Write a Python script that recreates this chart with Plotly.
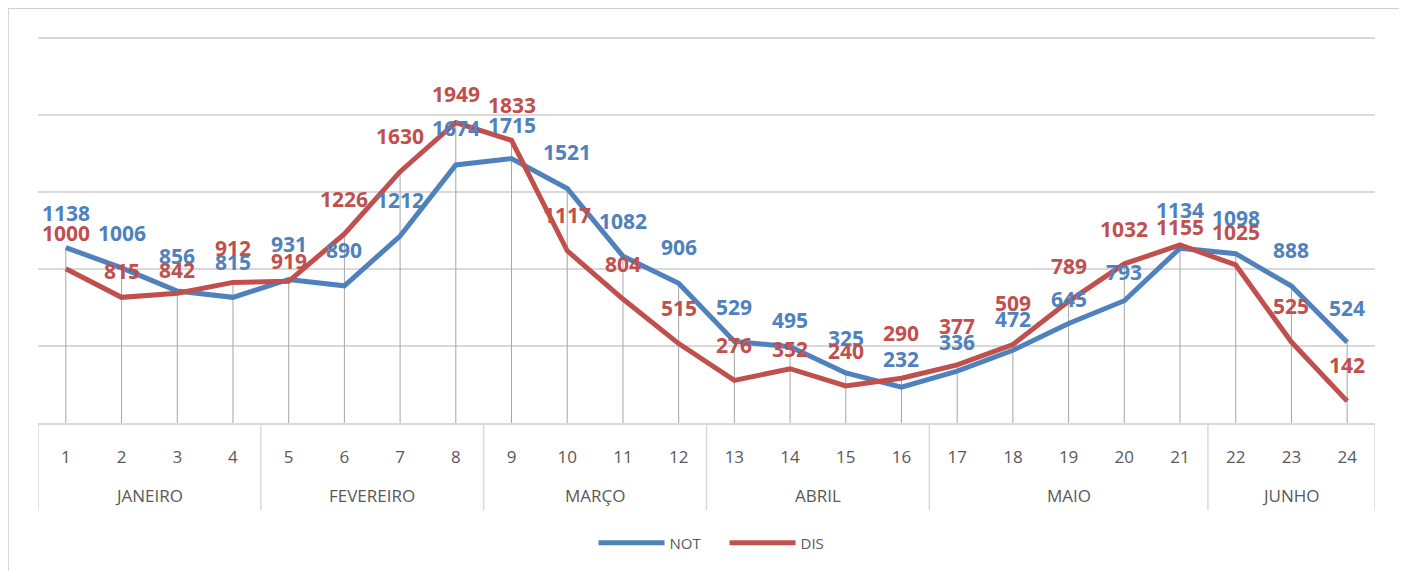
import plotly.graph_objects as go

# semanas epidemiológicas agrupadas por mês
weeks = [str(i) for i in range(1, 25)]
month_names = ["JANEIRO", "FEVEREIRO", "MARÇO", "ABRIL", "MAIO", "JUNHO"]
weeks_per_month = [4, 4, 4, 4, 5, 3]

not_values = [1138, 1006, 856, 815, 931, 890, 1212, 1674, 1715, 1521, 1082, 906,
              529, 495, 325, 232, 336, 472, 645, 793, 1134, 1098, 888, 524]
dis_values = [1000, 815, 842, 912, 919, 1226, 1630, 1949, 1833, 1117, 804, 515,
              276, 352, 240, 290, 377, 509, 789, 1032, 1155, 1025, 525, 142]

# deslocamento vertical (px) de cada rótulo, como ajustado à mão no original
not_label_shift = [35, 35, 35, 35, 35, 36, 36, 37, 34, 36, 35, 36,
                   34, 27, 35, 28, 29, 31, 25, 29, 38, 36, 36, 34]
dis_label_shift = [36, 26, 23, 34, 20, 35, 36, 29, 35, 36, 35, 36,
                   35, 20, 35, 45, 39, 42, 35, 35, 18, 33, 36, 36]

BLUE = "#4F81BD"
RED = "#C0504D"
GRID = "#D9D9D9"
TEXT = "#595959"
FONT = "Open Sans"

top = [max(a, b) for a, b in zip(not_values, dis_values)]

fig = go.Figure()

# drop lines (do ponto mais alto até o eixo)
fig.add_trace(go.Scatter(
    x=weeks, y=top, mode="markers",
    marker={"size": 1, "opacity": 0},
    error_y={"type": "data", "symmetric": False, "array": [0] * len(top),
             "arrayminus": top, "color": "#A6A6A6", "thickness": 1, "width": 0},
    showlegend=False, hoverinfo="skip",
))

for name, vals, color in [("NOT", not_values, BLUE), ("DIS", dis_values, RED)]:
    fig.add_trace(go.Scatter(
        x=weeks, y=vals, mode="lines", name=name,
        line={"color": color, "width": 5},
    ))

# rótulos de dados (x como índice da categoria)
for vals, shifts, color in [(not_values, not_label_shift, BLUE),
                            (dis_values, dis_label_shift, RED)]:
    for i, (v, s) in enumerate(zip(vals, shifts)):
        fig.add_annotation(
            x=i, y=v, text=str(v), showarrow=False, yshift=s,
            font={"family": FONT, "size": 21, "color": color, "weight": "bold"},
        )

# tabela de meses abaixo do eixo
start = 0
bounds = [-0.5]
for name, n in zip(month_names, weeks_per_month):
    fig.add_annotation(
        x=start + (n - 1) / 2, y=-73 / 390, xref="x", yref="paper",
        text=name, showarrow=False, yanchor="middle",
        font={"family": FONT, "size": 17, "color": TEXT},
    )
    start += n
    bounds.append(start - 0.5)

for b in bounds:
    fig.add_shape(type="line", xref="x", yref="paper", x0=b, x1=b, y0=0, y1=-88 / 390,
                  line={"color": GRID, "width": 1.5})

# moldura do gráfico
fig.add_shape(type="rect", xref="paper", yref="paper",
              x0=-0.0224, x1=1.0195, y0=-0.5, y1=1.0718,
              line={"color": "#D0D0D0", "width": 1.5}, layer="below")

fig.update_layout(
    width=1399, height=563,
    margin={"l": 30, "r": 32, "t": 28, "b": 143},
    paper_bgcolor="white", plot_bgcolor="white",
    showlegend=True,
    legend={"orientation": "h", "x": 0.4155, "xanchor": "left", "y": -0.31, "yanchor": "middle",
            "itemwidth": 66, "entrywidth": 50, "entrywidthmode": "pixels",
            "font": {"family": FONT, "size": 15, "color": TEXT}},
    xaxis={"type": "category", "range": [-0.5, 23.5], "showline": True, "linecolor": GRID,
           "linewidth": 1.5, "showgrid": False, "ticks": "outside", "ticklen": 18,
           "tickcolor": "rgba(0,0,0,0)",
           "tickfont": {"family": FONT, "size": 17, "color": TEXT}},
    yaxis={"range": [0, 2510], "dtick": 500, "showticklabels": False,
           "gridcolor": GRID, "gridwidth": 1.5, "zeroline": False, "showline": False},
)

fig.write_html("out.html")
